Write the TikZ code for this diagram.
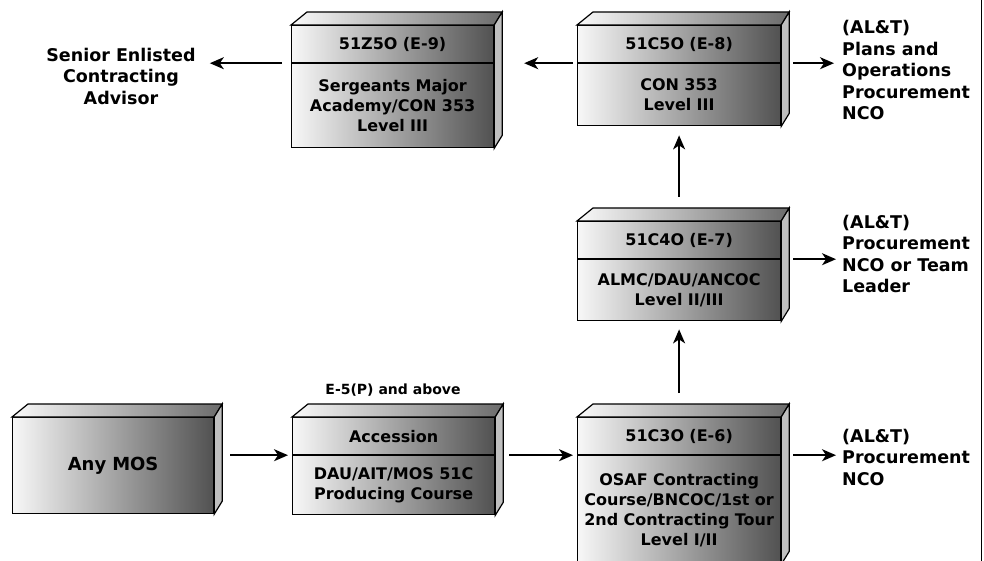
\documentclass[tikz,border=0pt]{standalone}
\usepackage{fontspec}
\setmainfont{DejaVu Sans}
\usetikzlibrary{arrows.meta, positioning}

\begin{document}
\begin{tikzpicture}[
  x=1pt, y=-1pt,
  every node/.style={font=\fontsize{16}{20}\selectfont\bfseries},
  front/.style={draw, line width=1.2pt, left color=black!3, right color=black!68,
    text width=196pt, inner xsep=3pt, inner ysep=0pt, align=center},
  hcell/.style={front, minimum height=37pt},
  bcell/.style={front},
  lbl/.style={inner sep=0pt, font=\fontsize{17.5}{21.5}\selectfont\bfseries},
  arr/.style={-{Stealth[length=14pt,width=12pt,inset=4pt]}, line width=1.5pt},
  topface/.style={draw, line width=1.2pt, left color=black!2, right color=black!58},
  sideface/.style={draw, line width=1.2pt, fill=black!25}
]
\useasboundingbox (0,0) rectangle (984,561);
% Bottom row
\node[bcell, anchor=north west, minimum height=96pt, text width=195pt,
  font=\fontsize{18}{22}\selectfont\bfseries] (mos) at (12,417) {Any MOS};
\node[hcell, anchor=north west] (acch) at (292,417) {Accession};
\node[bcell, below=0pt of acch, minimum height=59pt] (acc) {DAU/AIT/MOS 51C\\Producing Course};
\node[hcell, anchor=north west, text width=197pt] (c3h) at (577,417) {51C3O (E-6)};
\node[bcell, below=0pt of c3h, minimum height=108pt, text width=197pt] (c3) {OSAF Contracting\\Course/BNCOC/1st or\\2nd Contracting Tour\\Level I/II};
% Middle row
\node[hcell, anchor=north west, text width=197pt] (c4h) at (577,221) {51C4O (E-7)};
\node[bcell, below=0pt of c4h, minimum height=61pt, text width=197pt] (c4) {ALMC/DAU/ANCOC\\Level II/III};
% Top row
\node[hcell, anchor=north west] (z5h) at (291,25) {51Z5O (E-9)};
\node[bcell, below=0pt of z5h, minimum height=84pt] (z5) {Sergeants Major\\Academy/CON 353\\Level III};
\node[hcell, anchor=north west, text width=197pt] (c5h) at (577,25) {51C5O (E-8)};
\node[bcell, below=0pt of c5h, minimum height=62pt, text width=197pt] (c5) {CON 353\\Level III};
% Top and side faces
\foreach \h/\b in {mos/mos, acch/acc, c3h/c3, c4h/c4, c5h/c5, z5h/z5}{
  \draw[topface] (\h.north west) -- ++(16,-13) -- ([shift={(8,-13)}]\h.north east) -- (\h.north east) -- cycle;
  \draw[sideface] (\h.north east) -- ++(8,-13) -- ([shift={(8,-13)}]\b.south east) -- (\b.south east) -- cycle;
}
% Labels
\node[lbl, align=center] (senior) at (121,76) {Senior Enlisted\\Contracting\\Advisor};
\node[lbl, align=left, anchor=west] (plans) at (842,70) {(AL\&T)\\Plans and\\Operations\\Procurement\\NCO};
\node[lbl, align=left, anchor=west] (team) at (842,254) {(AL\&T)\\Procurement\\NCO or Team\\Leader};
\node[lbl, align=left, anchor=west] (nco) at (842,457) {(AL\&T)\\Procurement\\NCO};
\node[lbl, font=\fontsize{14}{17}\selectfont\bfseries] (above) at (393,390) {E-5(P) and above};
% Arrows
\draw[arr] ([xshift=16pt]mos.east |- acch.south) -- ([xshift=-4pt]acch.south west);
\draw[arr] ([xshift=14pt]acch.south east) -- ([xshift=-4pt]c3h.south west);
\draw[arr] ([xshift=12pt]c3h.south east) -- ([xshift=-6pt]nco.west |- c3h.south);
\draw[arr] ([yshift=24pt]c3h.north) -- ([yshift=-8pt]c4.south);
\draw[arr] ([xshift=12pt]c4h.south east) -- ([xshift=-6pt]team.west |- c4h.south);
\draw[arr] ([yshift=24pt]c4h.north) -- ([yshift=-9pt]c5.south);
\draw[arr] ([xshift=12pt]c5h.south east) -- ([xshift=-8pt]plans.west |- c5h.south);
\draw[arr] ([xshift=-4pt]c5h.south west) -- ([xshift=30pt]z5h.south east);
\draw[arr] ([xshift=-9pt]z5h.south west) -- ([xshift=14pt]senior.east |- z5h.south);
% Right border
\draw[line width=1.6pt] (981.5,0) -- (981.5,561);
\end{tikzpicture}
\end{document}
